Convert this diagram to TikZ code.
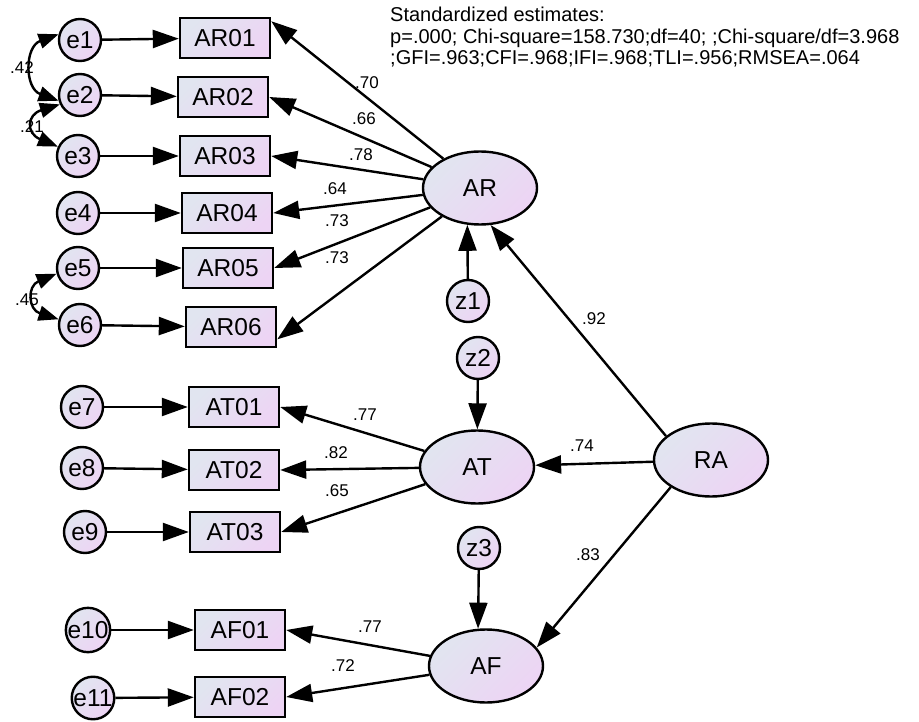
\documentclass[tikz,border=0pt]{standalone}
\usepackage{fontspec}
\setmainfont{Liberation Sans}
\usetikzlibrary{arrows.meta,shapes.geometric}
\definecolor{fillA}{RGB}{225,229,240}
\definecolor{fillB}{RGB}{237,212,244}

\begin{document}
\begin{tikzpicture}[x=1pt,y=-1pt,line width=2.4pt,
  shade fill/.style={top color=fillA,bottom color=fillB,shading angle=45},
  obs node/.style={rectangle,draw,shade fill,minimum width=90pt,minimum height=40pt,inner sep=0pt,font=\fontsize{24.5}{28}\selectfont},
  err node/.style={circle,draw,shade fill,minimum size=42pt,inner sep=0pt,font=\fontsize{24.5}{28}\selectfont},
  lat node/.style={ellipse,draw,shade fill,minimum width=114pt,minimum height=73pt,inner sep=0pt,font=\fontsize{24.5}{28}\selectfont},
  lbl/.style={inner sep=0pt,font=\fontsize{17}{20}\selectfont},
  path line/.style={->,>={Triangle[length=26pt,width=18pt]}},
  cov line/.style={<->,>={Triangle[length=20pt,width=15pt]}}]
  \useasboundingbox (0,0) rectangle (919,722);

  % fit summary
  \node[anchor=north west,inner sep=0pt,align=left,font=\fontsize{20}{21.5}\selectfont] (fit) at (389,6)
    {Standardized estimates:\\p=.000; Chi-square=158.730;df=40; ;Chi-square/df=3.968\\;GFI=.963;CFI=.968;IFI=.968;TLI=.956;RMSEA=.064};

  % observed items
  \node[obs node] (AR01) at (225,38) {AR01};
  \node[obs node] (AR02) at (223,97) {AR02};
  \node[obs node] (AR03) at (225,156) {AR03};
  \node[obs node] (AR04) at (227,213) {AR04};
  \node[obs node] (AR05) at (228,268) {AR05};
  \node[obs node] (AR06) at (231,327) {AR06};
  \node[obs node] (AT01) at (234,407) {AT01};
  \node[obs node] (AT02) at (234,470) {AT02};
  \node[obs node] (AT03) at (235,532) {AT03};
  \node[obs node] (AF01) at (240,630) {AF01};
  \node[obs node] (AF02) at (240,697) {AF02};

  % error terms
  \node[err node] (e1) at (80,40) {e1};
  \node[err node] (e2) at (80,95) {e2};
  \node[err node] (e3) at (78,156) {e3};
  \node[err node] (e4) at (78,213) {e4};
  \node[err node] (e5) at (78,268) {e5};
  \node[err node] (e6) at (80,325) {e6};
  \node[err node] (e7) at (82,407) {e7};
  \node[err node] (e8) at (82,468) {e8};
  \node[err node] (e9) at (85,532) {e9};
  \node[err node] (e10) at (88,630) {e10};
  \node[err node] (e11) at (93,698) {e11};

  % latent variables
  \node[lat node] (AR) at (480,188) {AR};
  \node[lat node] (AT) at (477,467) {AT};
  \node[lat node] (AF) at (486,666) {AF};
  \node[lat node] (RA) at (711,460) {RA};
  \node[err node] (z1) at (468,301) {z1};
  \node[err node] (z2) at (478,358) {z2};
  \node[err node] (z3) at (479,548) {z3};

  % estimates
  \node[lbl] (w1) at (367,83) {.70};
  \node[lbl] (w2) at (364,119) {.66};
  \node[lbl] (w3) at (361,155) {.78};
  \node[lbl] (w4) at (335,189) {.64};
  \node[lbl] (w5) at (337,221) {.73};
  \node[lbl] (w6) at (337,258) {.73};
  \node[lbl] (w7) at (365,415) {.77};
  \node[lbl] (w8) at (336,453) {.82};
  \node[lbl] (w9) at (337,491) {.65};
  \node[lbl] (w10) at (370,627) {.77};
  \node[lbl] (w11) at (343,666) {.72};
  \node[lbl] (g1) at (594,319) {.92};
  \node[lbl] (g2) at (582,446) {.74};
  \node[lbl] (g3) at (588,555) {.83};
  \node[lbl] (c1) at (22,68) {.42};
  \node[lbl] (c2) at (32,127) {.21};
  \node[lbl] (c3) at (27,300) {.45};

  \path[path line]
    (e1) edge (AR01)
    (e2) edge (AR02)
    (e3) edge (AR03)
    (e4) edge (AR04)
    (e5) edge (AR05)
    (e6) edge (AR06)
    (e7) edge (AT01)
    (e8) edge (AT02)
    (e9) edge (AT03)
    (e10) edge (AF01)
    (e11) edge (AF02)
    (AR) edge (AR01.20)
    (AR) edge (AR02.east)
    (AR) edge (AR03.east)
    (AR) edge (AR04.east)
    (AR) edge (AR05.east)
    (AR) edge (AR06.-15)
    (AT) edge (AT01.east)
    (AT) edge (AT02.east)
    (AT) edge (AT03.east)
    (AF) edge (AF01.east)
    (AF) edge (AF02.east)
    (RA.152) edge (AR.-74)
    (RA) edge (AT)
    (RA.-146) edge (AF.20)
    (z1) edge (AR.-109)
    (z2) edge (AT)
    (z3) edge (AF.102)
    ;

  \path[cov line]
    (e1.165) edge[bend right=70,looseness=1.4] (e2.195)
    (e2.205) edge[bend right=70,looseness=2.1] (e3.155)
    (e5.195) edge[bend right=70,looseness=1.8] (e6.165)
    ;
\end{tikzpicture}
\end{document}
